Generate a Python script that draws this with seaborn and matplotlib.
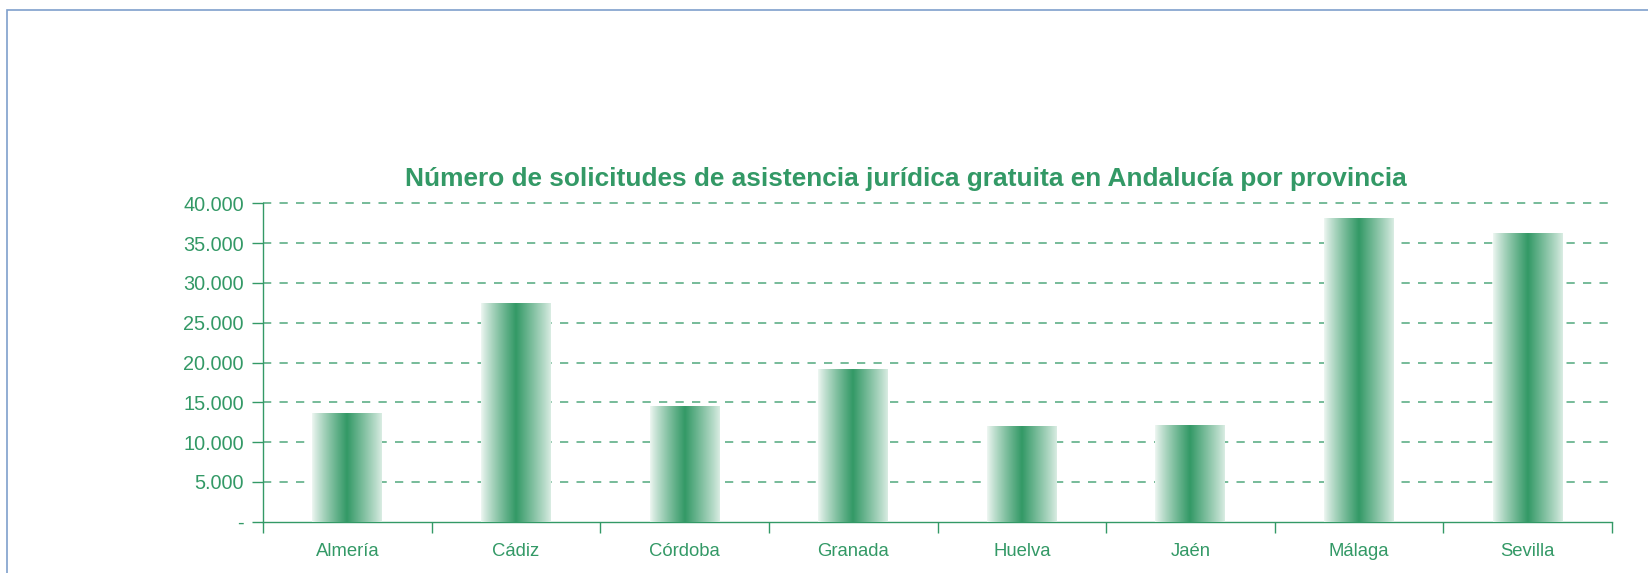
import numpy as np
import pandas as pd
import matplotlib
matplotlib.use("Agg")
import matplotlib.pyplot as plt
import seaborn as sns
from matplotlib.patches import Rectangle
from matplotlib.colors import to_rgb

# ---- data ----
provincias = ["Almería", "Cádiz", "Córdoba", "Granada", "Huelva", "Jaén", "Málaga", "Sevilla"]
solicitudes = [13600, 27500, 14550, 19200, 12000, 12150, 38150, 36250]
ytick_values = [0, 5000, 10000, 15000, 20000, 25000, 30000, 35000, 40000]
ytick_labels = ["-", "5.000", "10.000", "15.000", "20.000", "25.000", "30.000", "35.000", "40.000"]
titulo = "Número de solicitudes de asistencia jurídica gratuita en Andalucía por provincia"

GREEN = "#339966"

sns.set_theme(style="white")
plt.rcParams["font.family"] = ["Liberation Sans", "DejaVu Sans"]

W, H, DPI = 1648, 573, 100
fig = plt.figure(figsize=(W / DPI, H / DPI), dpi=DPI)
ax = fig.add_axes([263 / W, 1 - 521.7 / H, (1612 - 263) / W, (521.7 - 203.3) / H])

df = pd.DataFrame({"provincia": provincias, "solicitudes": solicitudes})
sns.barplot(data=df, x="provincia", y="solicitudes", ax=ax, width=0.415,
            color=GREEN, saturation=1, zorder=3)

# gradient fill for bars
g = np.array(to_rgb(GREEN))
u = np.linspace(0, 1, 256)
t = 1 - np.abs(2 * u - 1)
a = 0.08 + 0.92 * t ** 0.9
a = a + 0.10 * u * (1 - t)  # right edge slightly darker
a = np.clip(a, 0, 1)
grad = (1 - a)[:, None] * np.ones(3) + a[:, None] * g
grad = grad[None, :, :]
for p in list(ax.patches):
    x0, y0, w, h = p.get_x(), p.get_y(), p.get_width(), p.get_height()
    ax.imshow(grad, extent=[x0, x0 + w, y0, y0 + h], aspect="auto",
              interpolation="bilinear", zorder=3)
    p.set_facecolor("none")
    p.set_edgecolor("none")

ax.set_xlim(-0.5, len(provincias) - 0.5)
ax.set_ylim(0, 40000)

# grid
for v in ytick_values[1:]:
    ax.axhline(v, color=GREEN, lw=1.1, dashes=(5.4, 5.4), alpha=0.85,
               zorder=1, clip_on=False)

ax.set_yticks(ytick_values)
ax.set_yticklabels(ytick_labels)
ax.set_xticks(range(len(provincias)))
ax.set_xticklabels(provincias)
ax.set_xticks(np.arange(-0.5, len(provincias)), minor=True)

ax.tick_params(axis="y", which="major", direction="out", length=8, width=1,
               color=GREEN, labelcolor=GREEN, labelsize=14.3, pad=5.7, left=True)
ax.tick_params(axis="x", which="major", length=0, labelcolor=GREEN,
               labelsize=13.3, pad=15.5)
ax.tick_params(axis="x", which="minor", direction="out", length=8, width=1,
               color=GREEN, bottom=True)

ax.set_xlabel("")
ax.set_ylabel("")
for s in ["top", "right"]:
    ax.spines[s].set_visible(False)
for s in ["left", "bottom"]:
    ax.spines[s].set_color(GREEN)
    ax.spines[s].set_linewidth(1.0)
ax.set_facecolor("white")

fig.text(905.5 / W, 1 - 185.7 / H, titulo, ha="center", va="baseline",
         fontsize=18.9, fontweight="bold", color=GREEN)

# outer frame
fig.patches.append(Rectangle((7 / W, -0.1), 1.2, 1 - 10 / H + 0.1,
                             transform=fig.transFigure, fill=False,
                             edgecolor="#7fa0cc", lw=1.2))

fig.savefig("out.png", dpi=DPI)
